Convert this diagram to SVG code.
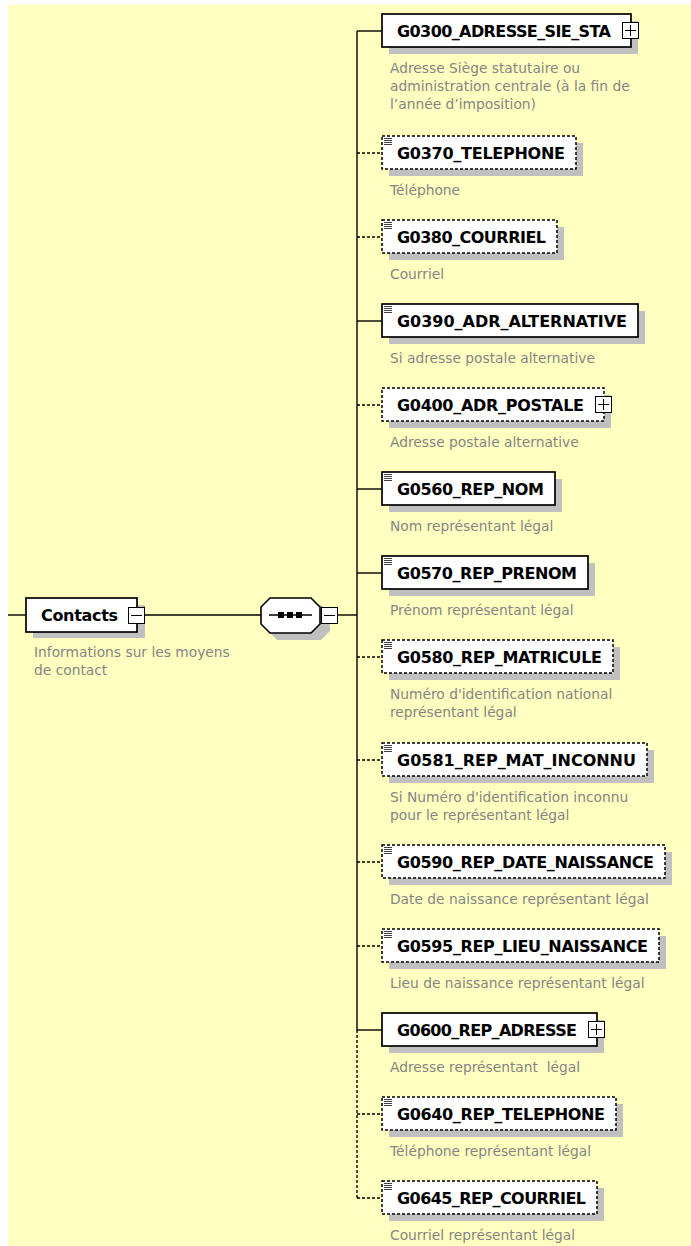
<svg xmlns="http://www.w3.org/2000/svg" width="691" height="1246" viewBox="0 0 691 1246">
<style>
.bg{fill:#ffffc0}
.sh{fill:#c0c0c0}
.box{fill:#fff;stroke:#000;stroke-width:1.7}
.opt{fill:#fff;stroke:#000;stroke-width:1.5;stroke-dasharray:3 2}
.lbl{font-family:"DejaVu Sans",Verdana,sans-serif;font-weight:bold;font-size:16px;fill:#000}
.desc{font-family:"DejaVu Sans",Verdana,sans-serif;font-size:13.8px;fill:#858585}
.ln{stroke:#000;stroke-width:1.4;fill:none}
.dl{stroke:#000;stroke-width:1.4;fill:none;stroke-dasharray:3 2}
.pm{fill:#fff;stroke:#000;stroke-width:1}
.ic{stroke:#404040;stroke-width:1}
</style>
<defs>
<g id="icon"><path class="ic" d="M384 0.5h8M384 2.5h8M384 4.5h8M384 6.5h8"/></g>
</defs>
<rect class="bg" x="8" y="5" width="683" height="1241"/>
<g id="connectors">
<line class="ln" x1="8" y1="615" x2="26" y2="615"/>
<line class="ln" x1="145" y1="615" x2="261" y2="615"/>
<line class="ln" x1="338" y1="615" x2="357" y2="615"/>
<line class="ln" x1="357" y1="31" x2="357" y2="1030"/>
<line class="dl" x1="357" y1="1030" x2="357" y2="1198"/>
<line class="ln" x1="357" y1="31" x2="382" y2="31"/>
<line class="dl" x1="357" y1="153" x2="382" y2="153"/>
<line class="dl" x1="357" y1="237" x2="382" y2="237"/>
<line class="ln" x1="357" y1="321" x2="382" y2="321"/>
<line class="dl" x1="357" y1="405" x2="382" y2="405"/>
<line class="ln" x1="357" y1="489" x2="382" y2="489"/>
<line class="ln" x1="357" y1="573" x2="382" y2="573"/>
<line class="dl" x1="357" y1="657" x2="382" y2="657"/>
<line class="dl" x1="357" y1="760" x2="382" y2="760"/>
<line class="dl" x1="357" y1="862" x2="382" y2="862"/>
<line class="dl" x1="357" y1="946" x2="382" y2="946"/>
<line class="ln" x1="357" y1="1030" x2="382" y2="1030"/>
<line class="dl" x1="357" y1="1114" x2="382" y2="1114"/>
<line class="dl" x1="357" y1="1198" x2="382" y2="1198"/>
</g>
<g id="Contacts">
<rect class="sh" x="33" y="605" width="112" height="33"/>
<rect class="box" x="26" y="598" width="111" height="34"/>
<text class="lbl" x="41" y="621" textLength="77">Contacts</text>
<rect class="pm" x="128.5" y="607.5" width="16" height="16"/>
<line x1="131" y1="615.5" x2="142" y2="615.5" stroke="#000"/>
<text class="desc" x="34" y="657">Informations sur les moyens</text>
<text class="desc" x="34" y="675">de contact</text>
</g>
<g id="sequence">
<path class="sh" d="M277 605h44l9 9v17l-9 9h-44l-9-9v-17z"/>
<path d="M270 598h41l9 9v17l-9 9h-41l-9-9v-17z" fill="#fff" stroke="#000" stroke-width="1.6"/>
<line class="ln" x1="269" y1="615" x2="312" y2="615"/>
<rect x="278" y="612" width="6" height="6" fill="#000"/>
<rect x="287" y="612" width="6" height="6" fill="#000"/>
<rect x="296" y="612" width="6" height="6" fill="#000"/>
<rect class="pm" x="321.5" y="607.5" width="16" height="16"/>
<line x1="324" y1="615.5" x2="335" y2="615.5" stroke="#000"/>
</g>
<g id="G0300">
<rect class="sh" x="389" y="21" width="249" height="33"/>
<rect class="box" x="382" y="14" width="249" height="33"/>
<text class="lbl" x="397" y="36.5" textLength="214">G0300_ADRESSE_SIE_STA</text>
<rect class="pm" x="622.5" y="22.5" width="16" height="16"/>
<path d="M625 30.5h11M630.5 25v11" stroke="#000"/>
<text class="desc" x="390" y="73">Adresse Siège statutaire ou</text>
<text class="desc" x="390" y="91">administration centrale (à la fin de</text>
<text class="desc" x="390" y="109">l’année d’imposition)</text>
</g>
<g id="G0370">
<rect class="sh" x="389" y="143" width="194" height="33"/>
<rect class="opt" x="382" y="136" width="194" height="33"/>
<use href="#icon" y="138"/>
<text class="lbl" x="397" y="158.5" textLength="168">G0370_TELEPHONE</text>
<text class="desc" x="390" y="195">Téléphone</text>
</g>
<g id="G0380">
<rect class="sh" x="389" y="227" width="175" height="33"/>
<rect class="opt" x="382" y="220" width="175" height="33"/>
<use href="#icon" y="222"/>
<text class="lbl" x="397" y="242.5" textLength="149">G0380_COURRIEL</text>
<text class="desc" x="390" y="279">Courriel</text>
</g>
<g id="G0390">
<rect class="sh" x="389" y="311" width="256" height="33"/>
<rect class="box" x="382" y="304" width="256" height="33"/>
<use href="#icon" y="306"/>
<text class="lbl" x="397" y="326.5" textLength="230">G0390_ADR_ALTERNATIVE</text>
<text class="desc" x="390" y="363">Si adresse postale alternative</text>
</g>
<g id="G0400">
<rect class="sh" x="389" y="395" width="222" height="33"/>
<rect class="opt" x="382" y="388" width="222" height="33"/>
<text class="lbl" x="397" y="410.5" textLength="187">G0400_ADR_POSTALE</text>
<rect class="pm" x="595.5" y="396.5" width="16" height="16"/>
<path d="M598 404.5h11M603.5 399v11" stroke="#000"/>
<text class="desc" x="390" y="447">Adresse postale alternative</text>
</g>
<g id="G0560">
<rect class="sh" x="389" y="479" width="173" height="33"/>
<rect class="box" x="382" y="472" width="173" height="33"/>
<use href="#icon" y="474"/>
<text class="lbl" x="397" y="494.5" textLength="147">G0560_REP_NOM</text>
<text class="desc" x="390" y="531">Nom représentant légal</text>
</g>
<g id="G0570">
<rect class="sh" x="389" y="563" width="206" height="33"/>
<rect class="box" x="382" y="556" width="206" height="33"/>
<use href="#icon" y="558"/>
<text class="lbl" x="397" y="578.5" textLength="180">G0570_REP_PRENOM</text>
<text class="desc" x="390" y="615">Prénom représentant légal</text>
</g>
<g id="G0580">
<rect class="sh" x="389" y="647" width="231" height="33"/>
<rect class="opt" x="382" y="640" width="231" height="33"/>
<use href="#icon" y="642"/>
<text class="lbl" x="397" y="662.5" textLength="205">G0580_REP_MATRICULE</text>
<text class="desc" x="390" y="699">Numéro d'identification national</text>
<text class="desc" x="390" y="717">représentant légal</text>
</g>
<g id="G0581">
<rect class="sh" x="389" y="750" width="265" height="33"/>
<rect class="opt" x="382" y="743" width="265" height="33"/>
<use href="#icon" y="745"/>
<text class="lbl" x="397" y="765.5" textLength="239">G0581_REP_MAT_INCONNU</text>
<text class="desc" x="390" y="802">Si Numéro d'identification inconnu</text>
<text class="desc" x="390" y="820">pour le représentant légal</text>
</g>
<g id="G0590">
<rect class="sh" x="389" y="852" width="283" height="33"/>
<rect class="opt" x="382" y="845" width="283" height="33"/>
<use href="#icon" y="847"/>
<text class="lbl" x="397" y="867.5" textLength="257">G0590_REP_DATE_NAISSANCE</text>
<text class="desc" x="390" y="904">Date de naissance représentant légal</text>
</g>
<g id="G0595">
<rect class="sh" x="389" y="936" width="277" height="33"/>
<rect class="opt" x="382" y="929" width="277" height="33"/>
<use href="#icon" y="931"/>
<text class="lbl" x="397" y="951.5" textLength="251">G0595_REP_LIEU_NAISSANCE</text>
<text class="desc" x="390" y="988">Lieu de naissance représentant légal</text>
</g>
<g id="G0600">
<rect class="sh" x="389" y="1020" width="215" height="33"/>
<rect class="box" x="382" y="1013" width="215" height="33"/>
<text class="lbl" x="397" y="1035.5" textLength="180">G0600_REP_ADRESSE</text>
<rect class="pm" x="588.5" y="1021.5" width="16" height="16"/>
<path d="M591 1029.5h11M596.5 1024v11" stroke="#000"/>
<text class="desc" x="390" y="1072" xml:space="preserve" style="white-space:pre">Adresse représentant  légal</text>
</g>
<g id="G0640">
<rect class="sh" x="389" y="1104" width="234" height="33"/>
<rect class="opt" x="382" y="1097" width="234" height="33"/>
<use href="#icon" y="1099"/>
<text class="lbl" x="397" y="1119.5" textLength="208">G0640_REP_TELEPHONE</text>
<text class="desc" x="390" y="1156">Téléphone représentant légal</text>
</g>
<g id="G0645">
<rect class="sh" x="389" y="1188" width="215" height="33"/>
<rect class="opt" x="382" y="1181" width="215" height="33"/>
<use href="#icon" y="1183"/>
<text class="lbl" x="397" y="1203.5" textLength="189">G0645_REP_COURRIEL</text>
<text class="desc" x="390" y="1240">Courriel représentant légal</text>
</g>
</svg>
